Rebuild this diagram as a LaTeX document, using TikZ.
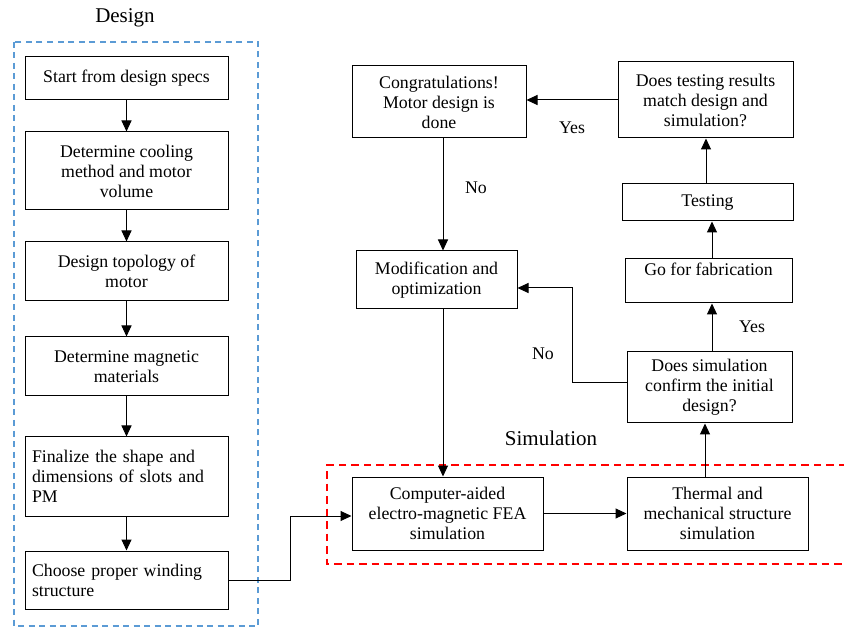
\documentclass[tikz,border=0pt]{standalone}
\usepackage{fontspec}
\setmainfont{Liberation Serif}
\usetikzlibrary{arrows.meta}
\definecolor{dblue}{RGB}{91,155,213}
\begin{document}
\begin{tikzpicture}[x=1pt,y=-1pt,
  every node/.style={font=\fontsize{17.8}{20}\selectfont},
  box/.style={draw,line width=1pt,inner sep=0pt,align=center},
  conn/.style={line width=1pt,-{Triangle[length=11pt,width=10pt]}},
  lab/.style={inner sep=0pt},
  grouplab/.style={inner sep=0pt,font=\fontsize{21}{24}\selectfont}
]
\useasboundingbox (0,0) rectangle (844,628);
% group frames
\draw[dblue,line width=1.4pt,dash pattern=on 6pt off 4.5pt] (14,42) rectangle (258,626);
\draw[red,line width=1.4pt,dash pattern=on 7.5pt off 5pt] (846,465) -- (327,465) -- (327,564) -- (846,564);
\node[grouplab] (tdesign) at (125,18) {Design};
\node[grouplab] (tsim) at (551,438) {Simulation};
% left column
\node[box,minimum width=203pt,minimum height=43pt] (b1) at (126.5,78.5) {Start from design specs};
\node[box,minimum width=203pt,minimum height=78pt] (b2) at (126.5,171) {Determine cooling\\method and motor\\volume};
\node[box,minimum width=203pt,minimum height=59pt] (b3) at (126.5,271.5) {Design topology of\\motor};
\node[box,minimum width=203pt,minimum height=59pt] (b4) at (126.5,366.5) {Determine magnetic\\materials};
\node[box,minimum width=203pt,minimum height=79pt,align=left,text width=189pt] (b5) at (126.5,476.5) {Finalize the shape and\\dimensions of slots and\\PM};
\node[box,minimum width=203pt,minimum height=58pt,align=left,text width=189pt] (b6) at (126.5,580) {Choose proper winding\\structure};
% right part
\node[box,minimum width=174pt,minimum height=72pt] (congr) at (439,102) {Congratulations!\\Motor design is\\done};
\node[box,minimum width=175pt,minimum height=76pt] (dtest) at (705.5,100) {Does testing results\\match design and\\simulation?};
\node[box,minimum width=171pt,minimum height=37pt] (testing) at (707.5,202.5) {Testing};
\node[box,minimum width=167pt,minimum height=44pt] (fab) at (708.5,281) {Go for fabrication\\[4pt]};
\node[box,minimum width=161pt,minimum height=58pt] (modif) at (436.5,280) {Modification and\\optimization};
\node[box,minimum width=165pt,minimum height=71pt] (dsim) at (709.5,387.5) {Does simulation\\confirm the initial\\design?};
\node[box,minimum width=191pt,minimum height=73pt] (fea) at (447.5,513.5) {Computer-aided\\electro-magnetic FEA\\simulation};
\node[box,minimum width=181pt,minimum height=73pt] (therm) at (717.5,513.5) {Thermal and\\mechanical structure\\simulation};
% connectors left
\draw[conn] (b1) -- (b2);
\draw[conn] (b2) -- (b3);
\draw[conn] (b3) -- (b4);
\draw[conn] (b4) -- (b5);
\draw[conn] (b5) -- (b6);
\coordinate (k1) at (290,580);
\coordinate (k2) at (290,516);
\draw[conn] (b6.east |- k1) -- (k1) -- (k2) -- (fea.west |- k2);
% connectors right
\draw[conn] (fea) -- (therm);
\draw[conn] (therm.north -| 705,0) -- (dsim.south -| 705,0);
\draw[conn] (dsim.north -| 712,0) -- (fab.south -| 712,0);
\draw[conn] (fab.north -| 712,0) -- (testing.south -| 712,0);
\draw[conn] (testing.north -| 706,0) -- (dtest.south -| 706,0);
\draw[conn] (dtest.west |- 0,100) -- (congr.east |- 0,100);
\draw[conn] (congr.south -| 443,0) -- (modif.north -| 443,0);
\draw[conn] (modif.south -| 443,0) -- (fea.north -| 443,0);
\coordinate (n1) at (572,383);
\coordinate (n2) at (572,288);
\draw[conn] (dsim.west |- n1) -- (n1) -- (n2) -- (modif.east |- n2);
% labels
\node[lab] (yes1) at (572,128) {Yes};
\node[lab] (no1) at (476,188) {No};
\node[lab] (yes2) at (752,327) {Yes};
\node[lab] (no2) at (543,354) {No};
\end{tikzpicture}
\end{document}
